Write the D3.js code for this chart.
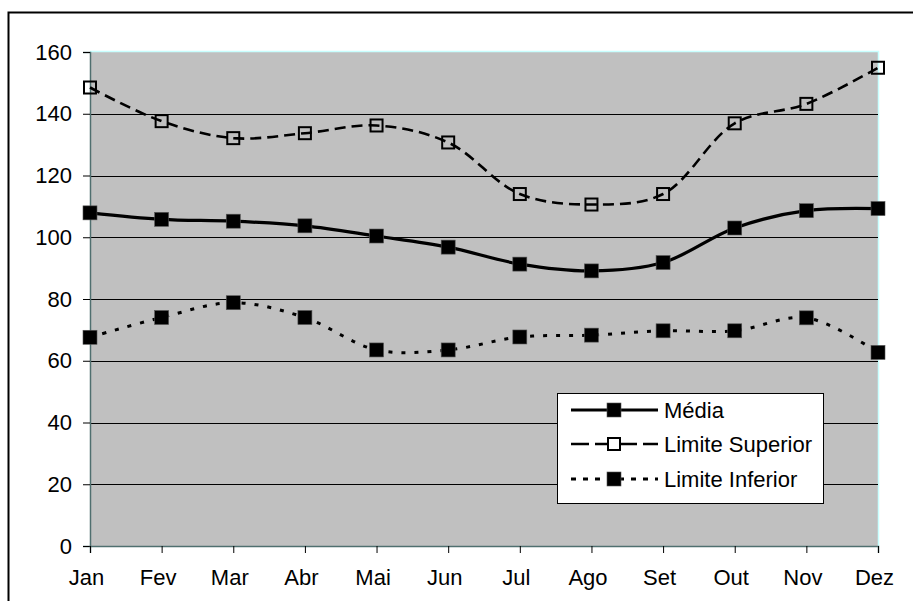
<!DOCTYPE html>
<html>
<head>
<meta charset="utf-8">
<script src="https://cdn.jsdelivr.net/npm/d3@7"></script>
<style>
  html, body { margin: 0; padding: 0; background: #ffffff; }
  svg { display: block; }
  text { font-family: Arial, "Liberation Sans", sans-serif; fill: #000; }
</style>
</head>
<body>
<svg id="chart" width="913" height="601"></svg>
<script>
// Monthly categories and the three series
const months = ["Jan", "Fev", "Mar", "Abr", "Mai", "Jun", "Jul", "Ago", "Set", "Out", "Nov", "Dez"];
const media = [107.9, 105.8, 105.2, 103.7, 100.4, 96.8, 91.3, 89.1, 91.8, 103.0, 108.6, 109.3];
const limiteSuperior = [148.5, 137.6, 132.1, 133.7, 136.2, 130.7, 114.0, 110.6, 114.0, 136.9, 143.2, 154.9];
const limiteInferior = [67.6, 74.0, 78.8, 74.0, 63.5, 63.5, 67.7, 68.3, 69.7, 69.7, 73.9, 62.7];
const yTicks = [0, 20, 40, 60, 80, 100, 120, 140, 160];
const seriesNames = ["Média", "Limite Superior", "Limite Inferior"];

const svg = d3.select("#chart");
const plot = { left: 90, right: 878, top: 52, bottom: 546 };
const fontSize = 22;

const x = d3.scalePoint().domain(months).range([plot.left, plot.right]);
const y = d3.scaleLinear().domain([0, 160]).range([plot.bottom, plot.top]);

// Outer chart frame
svg.append("rect")
  .attr("x", 8.5).attr("y", 12.5)
  .attr("width", 920).attr("height", 620)
  .attr("fill", "#fff").attr("stroke", "#000").attr("stroke-width", 2);

// Plot area background
svg.append("rect")
  .attr("x", plot.left).attr("y", plot.top)
  .attr("width", plot.right - plot.left).attr("height", plot.bottom - plot.top)
  .attr("fill", "#c0c0c0");

// Light border on top and right of plot area
svg.append("path")
  .attr("d", `M${plot.left},${plot.top - 0.5}H${plot.right + 0.5}V${plot.bottom}`)
  .attr("fill", "none").attr("stroke", "#c8ffff").attr("stroke-width", 1.5);

// Horizontal gridlines
svg.append("g").selectAll("line")
  .data(yTicks.filter(t => t > 0 && t < 160))
  .join("line")
  .attr("x1", plot.left).attr("x2", plot.right)
  .attr("y1", d => Math.round(y(d)) + 0.5).attr("y2", d => Math.round(y(d)) + 0.5)
  .attr("stroke", "#000").attr("stroke-width", 1);

// Y axis
const yAxis = svg.append("g")
  .attr("transform", `translate(${plot.left},0)`)
  .call(d3.axisLeft(y).tickValues(yTicks).tickSize(7).tickPadding(11).tickFormat(d3.format("d")));
yAxis.select(".domain").attr("stroke", "#4f6f6f").attr("stroke-width", 1.5);
yAxis.selectAll(".tick line").attr("stroke", "#000");
yAxis.selectAll(".tick text")
  .attr("font-size", fontSize).attr("font-family", "Arial, 'Liberation Sans', sans-serif")
  .attr("fill", "#000");

// X axis
const xAxis = svg.append("g")
  .attr("transform", `translate(0,${plot.bottom})`)
  .call(d3.axisBottom(x).tickSize(7).tickPadding(16));
xAxis.select(".domain").attr("stroke", "#4f6f6f").attr("stroke-width", 1.5);
xAxis.selectAll(".tick line").attr("stroke", "#000");
xAxis.selectAll(".tick text")
  .attr("font-size", fontSize).attr("font-family", "Arial, 'Liberation Sans', sans-serif")
  .attr("fill", "#000").attr("dx", -4);

// Series lines (smoothed)
const line = d3.line()
  .x((d, i) => x(months[i]))
  .y(d => y(d))
  .curve(d3.curveCatmullRom.alpha(0.5));

const series = [
  { name: seriesNames[0], values: media, width: 3.2, dash: null, hollow: false },
  { name: seriesNames[1], values: limiteSuperior, width: 2.6, dash: "11,6", hollow: true },
  { name: seriesNames[2], values: limiteInferior, width: 3, dash: "4,9", hollow: false }
];

series.forEach(s => {
  svg.append("path")
    .datum(s.values)
    .attr("d", line)
    .attr("fill", "none")
    .attr("stroke", "#000")
    .attr("stroke-width", s.width)
    .attr("stroke-dasharray", s.dash);
});

// Square markers
function drawMarker(g, cx, cy, hollow) {
  if (hollow) {
    g.append("rect")
      .attr("x", cx - 6).attr("y", cy - 6).attr("width", 12).attr("height", 12)
      .attr("fill", "none").attr("stroke", "#000").attr("stroke-width", 2);
  } else {
    g.append("rect")
      .attr("x", cx - 7).attr("y", cy - 7).attr("width", 14).attr("height", 14)
      .attr("fill", "#000").attr("stroke", "#555").attr("stroke-width", 0.6);
  }
}

series.forEach(s => {
  const g = svg.append("g");
  s.values.forEach((v, i) => drawMarker(g, x(months[i]), y(v), s.hollow));
});

// Legend
const legend = svg.append("g");
legend.append("rect")
  .attr("x", 557.5).attr("y", 393.5).attr("width", 266).attr("height", 110)
  .attr("fill", "#fff").attr("stroke", "#000").attr("stroke-width", 1);

const legendRows = [410, 444, 479];
const legendDash = [null, "18,6", "5,7"];
series.forEach((s, i) => {
  const ry = legendRows[i];
  legend.append("line")
    .attr("x1", 571).attr("x2", 658).attr("y1", ry).attr("y2", ry)
    .attr("stroke", "#000").attr("stroke-width", s.width)
    .attr("stroke-dasharray", legendDash[i]);
  drawMarker(legend, 614, ry, s.hollow);
  if (s.hollow) {
    legend.append("rect").attr("x", 609).attr("y", ry - 4).attr("width", 10).attr("height", 8).attr("fill", "#fff");
  }
  legend.append("text")
    .attr("x", 664).attr("y", ry)
    .attr("dy", "0.36em")
    .attr("font-size", fontSize)
    .text(s.name);
});
</script>
</body>
</html>
